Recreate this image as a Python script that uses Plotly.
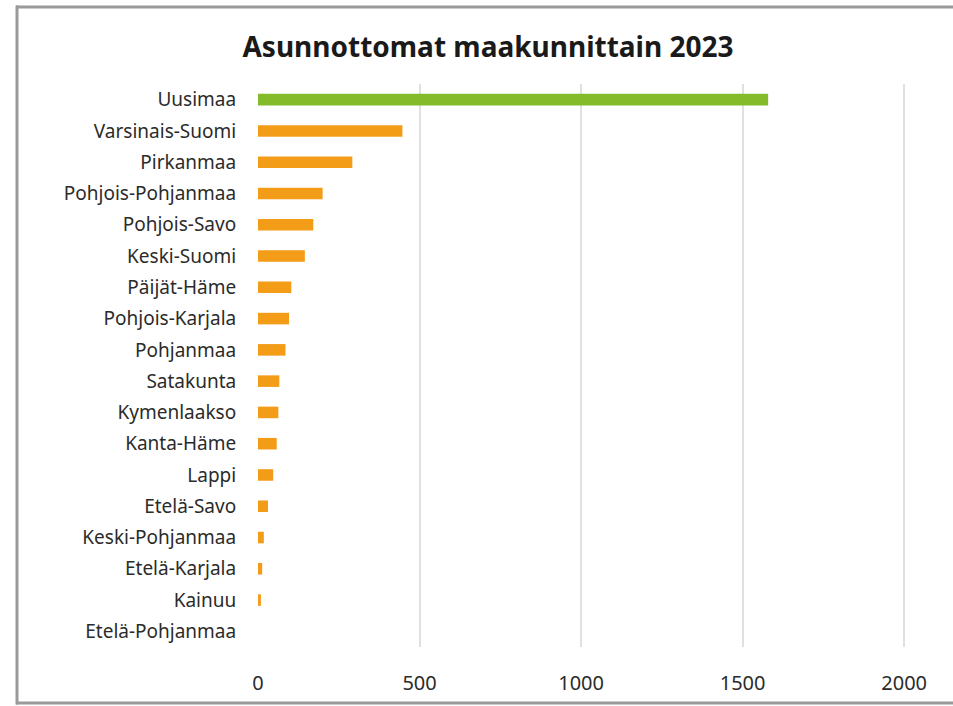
import plotly.graph_objects as go

regions = ["Uusimaa", "Varsinais-Suomi", "Pirkanmaa", "Pohjois-Pohjanmaa", "Pohjois-Savo",
           "Keski-Suomi", "Päijät-Häme", "Pohjois-Karjala", "Pohjanmaa", "Satakunta",
           "Kymenlaakso", "Kanta-Häme", "Lappi", "Etelä-Savo", "Keski-Pohjanmaa",
           "Etelä-Karjala", "Kainuu", "Etelä-Pohjanmaa"]
values = [1579, 447, 292, 200, 171, 145, 103, 96, 85, 66, 63, 58, 47, 31, 18, 13, 9, 0]
colors = ["#84BB2A"] + ["#F39C18"] * (len(regions) - 1)
x_ticks = [0, 500, 1000, 1500, 2000]

W, H = 953, 706
L, R, T, B = 258, 44, 84, 59
PW, PH = W - L - R, H - T - B

fig = go.Figure(go.Bar(
    x=values, y=regions, orientation="h",
    marker=dict(color=colors, line=dict(width=0)),
    width=0.37,
))

fig.update_layout(
    width=W, height=H, autosize=False,
    paper_bgcolor="white", plot_bgcolor="white",
    margin=dict(l=L, r=R, t=T, b=B, autoexpand=False),
    title=dict(text="<b>Asunnottomat maakunnittain 2023</b>", x=488 / W, xanchor="center",
               xref="container", y=1 - 47 / H, yref="container", yanchor="middle",
               font=dict(family="Noto Sans", size=28, color="#1a1a1a")),
    font=dict(family="Noto Sans", size=19, color="#2b2b2b"),
    showlegend=False,
)
fig.update_xaxes(range=[0, 2015], tickvals=x_ticks, showgrid=True, gridcolor="#E0E0E0",
                 gridwidth=2, zeroline=False, showline=False, automargin=False,
                 ticks="outside", ticklen=0, ticklabelstandoff=18,
                 tickfont=dict(size=20, color="#2b2b2b"))
fig.update_yaxes(categoryorder="array", categoryarray=regions, autorange="reversed",
                 showgrid=False, showline=False, zeroline=False, automargin=False,
                 ticks="outside", ticklen=0, ticklabelstandoff=17,
                 tickfont=dict(size=19, color="#2b2b2b"))

# outer frame (top, left, bottom edges) as thin filled rectangles, in pixel units
def px_x(p):
    return (p - L) / PW

def px_y(p):
    return (H - B - p) / PH

frame = [(16, 5.5, W + 5, 8.5),    # top
         (15.5, 5.5, 18.5, 704.5),  # left
         (16, 701.5, W + 5, 704.5)]  # bottom
for a, b, c, d in frame:
    fig.add_shape(type="rect", xref="paper", yref="paper",
                  x0=px_x(a), x1=px_x(c), y0=px_y(d), y1=px_y(b),
                  line=dict(width=0), fillcolor="#9A9A9A", layer="above")

fig.write_html("out.html",
               config={"responsive": False, "displayModeBar": False},
               post_script="document.body.style.margin='0';document.body.style.overflow='hidden';")
